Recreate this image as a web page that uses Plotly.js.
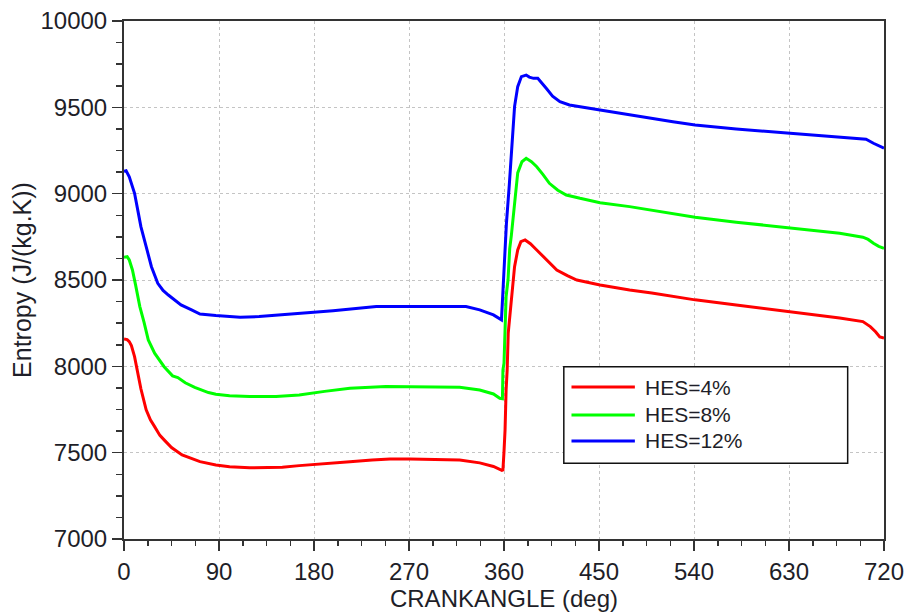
<!DOCTYPE html>
<html>
<head>
<meta charset="utf-8">
<script src="https://cdn.plot.ly/plotly-3.0.1.min.js"></script>
<style>html,body{margin:0;padding:0;background:#fff;}#chart{width:910px;height:614px;}</style>
</head>
<body>
<div id="chart"></div>
<script>
var seriesNames = ["HES=4%", "HES=8%", "HES=12%"];
var seriesColors = ["#ff0000", "#00ff00", "#0000ff"];

var crankRed = [0,3,5,7,10,13,16,21,25,29,34,38,45,55,65,72,87,100,119,138,150,166,190,214,235,252,271,300,318,337,350,358,359,360,361,362,363,364,366,368,370,373,376,380,385,391,402,410,420,429,451,479,500,527,541,580,631,660,678,700,707,712,716,720];
var entropyRed = [8159,8155,8143,8120,8056,7960,7870,7748,7690,7651,7600,7574,7530,7487,7462,7448,7429,7418,7412,7412,7416,7425,7438,7448,7457,7464,7464,7462,7458,7441,7420,7398,7400,7506,7632,7863,7979,8192,8307,8462,8577,8674,8722,8732,8710,8674,8606,8558,8525,8500,8471,8442,8425,8398,8385,8355,8317,8296,8280,8259,8230,8200,8170,8164];

var crankGreen = [0,3,5,8,11,15,19,23,29,38,46,51,58,67,80,87,100,119,144,166,190,214,248,280,318,337,350,356,358.5,359,360,361,362,363.8,365.4,367,370,373,377,381,386,391,397,403,411,419,432,451,479,520,541,580,631,678,700,705,710,715,720];
var entropyGreen = [8632,8635,8616,8558,8470,8346,8255,8153,8076,7998,7945,7935,7905,7878,7848,7838,7830,7825,7825,7834,7855,7873,7883,7883,7879,7863,7840,7815,7812,7979,8018,8211,8404,8500,8680,8760,8963,9120,9185,9205,9185,9156,9110,9060,9020,8992,8973,8948,8925,8886,8863,8835,8800,8771,8748,8735,8713,8695,8684];

var crankBlue = [0,2,5,8,10,13,16,21,26,32,37,42,54,64,72,87,100,110,128,150,166,198,239,280,324,337,350,357.6,358.5,359.7,360.7,362.3,365,367,370,373,376.5,381,384,388,392,400,406,413,422,451,479,520,541,580,631,678,703,710,715,720];
var entropyBlue = [9130,9133,9098,9040,9002,8906,8809,8693,8577,8481,8440,8413,8356,8327,8303,8294,8288,8284,8288,8298,8307,8322,8346,8346,8346,8327,8298,8269,8384,8500,8713,8828,9050,9253,9504,9620,9678,9687,9675,9668,9668,9610,9565,9533,9514,9485,9456,9417,9398,9375,9350,9327,9315,9292,9275,9263];

var xTicks = [0,90,180,270,360,450,540,630,720];
var yTicks = [7000,7500,8000,8500,9000,9500,10000];

var xs = [crankRed, crankGreen, crankBlue];
var ys = [entropyRed, entropyGreen, entropyBlue];

var traces = [];
for (var i = 0; i < 3; i++) {
  traces.push({
    type: 'scatter', mode: 'lines', name: seriesNames[i],
    x: xs[i], y: ys[i],
    line: {color: seriesColors[i], width: 3},
    showlegend: false
  });
}

var fam = '"Liberation Sans", Arial, sans-serif';
var font = {family: fam, size: 24, color: '#1e1e28'};

var axisCommon = {
  showgrid: true, gridcolor: '#c4c4c4', griddash: 'dot', gridwidth: 1,
  ticks: 'outside', ticklen: 10, tickwidth: 1.5, tickcolor: '#333',
  showline: true, linecolor: '#333', linewidth: 2, mirror: true,
  zeroline: false, tickfont: font
};

var xaxis = Object.assign({}, axisCommon, {
  range: [0, 720], tickvals: xTicks, ticktext: xTicks.map(String),
  minor: {dtick: 22.5, tick0: 0, ticks: 'outside', ticklen: 5, tickwidth: 1.5, tickcolor: '#333', showgrid: false},
  title: {text: 'CRANKANGLE (deg)', font: font, standoff: 3}
});
var yaxis = Object.assign({}, axisCommon, {
  range: [7000, 10000], tickvals: yTicks, ticktext: yTicks.map(String),
  minor: {dtick: 125, tick0: 7000, ticks: 'outside', ticklen: 6, tickwidth: 1.5, tickcolor: '#333', showgrid: false},
  title: {text: 'Entropy (J/(kg.K))', font: {family: fam, size: 25, color: '#1e1e28'}, standoff: 2}
});

// Legend (drawn as a box with key lines and labels, in paper coordinates)
var legX0 = 0.5787, legX1 = 0.9522, legY0 = 0.1461, legY1 = 0.3326;
var keyX0 = 0.5888, keyX1 = 0.6722, labelX = 0.6827;
var keyY = [0.2934, 0.2394, 0.1892];

var shapes = [{
  type: 'rect', xref: 'paper', yref: 'paper', x0: legX0, x1: legX1, y0: legY0, y1: legY1,
  line: {color: '#111', width: 1.5}, fillcolor: '#ffffff', layer: 'above'
}];
var annotations = [];
for (var j = 0; j < 3; j++) {
  shapes.push({type: 'line', xref: 'paper', yref: 'paper', x0: keyX0, x1: keyX1, y0: keyY[j], y1: keyY[j],
    line: {color: seriesColors[j], width: 3}, layer: 'above'});
  annotations.push({xref: 'paper', yref: 'paper', x: labelX, y: keyY[j], xanchor: 'left', yanchor: 'middle',
    text: seriesNames[j], showarrow: false, font: {family: fam, size: 21, color: '#1e1e28'}});
}

var layout = {
  width: 910, height: 614,
  margin: {l: 124, r: 26, t: 21, b: 75},
  paper_bgcolor: '#fff', plot_bgcolor: '#fff',
  xaxis: xaxis, yaxis: yaxis,
  shapes: shapes, annotations: annotations,
  showlegend: false, font: font
};

Plotly.newPlot('chart', traces, layout, {staticPlot: true, displayModeBar: false});
</script>
</body>
</html>
